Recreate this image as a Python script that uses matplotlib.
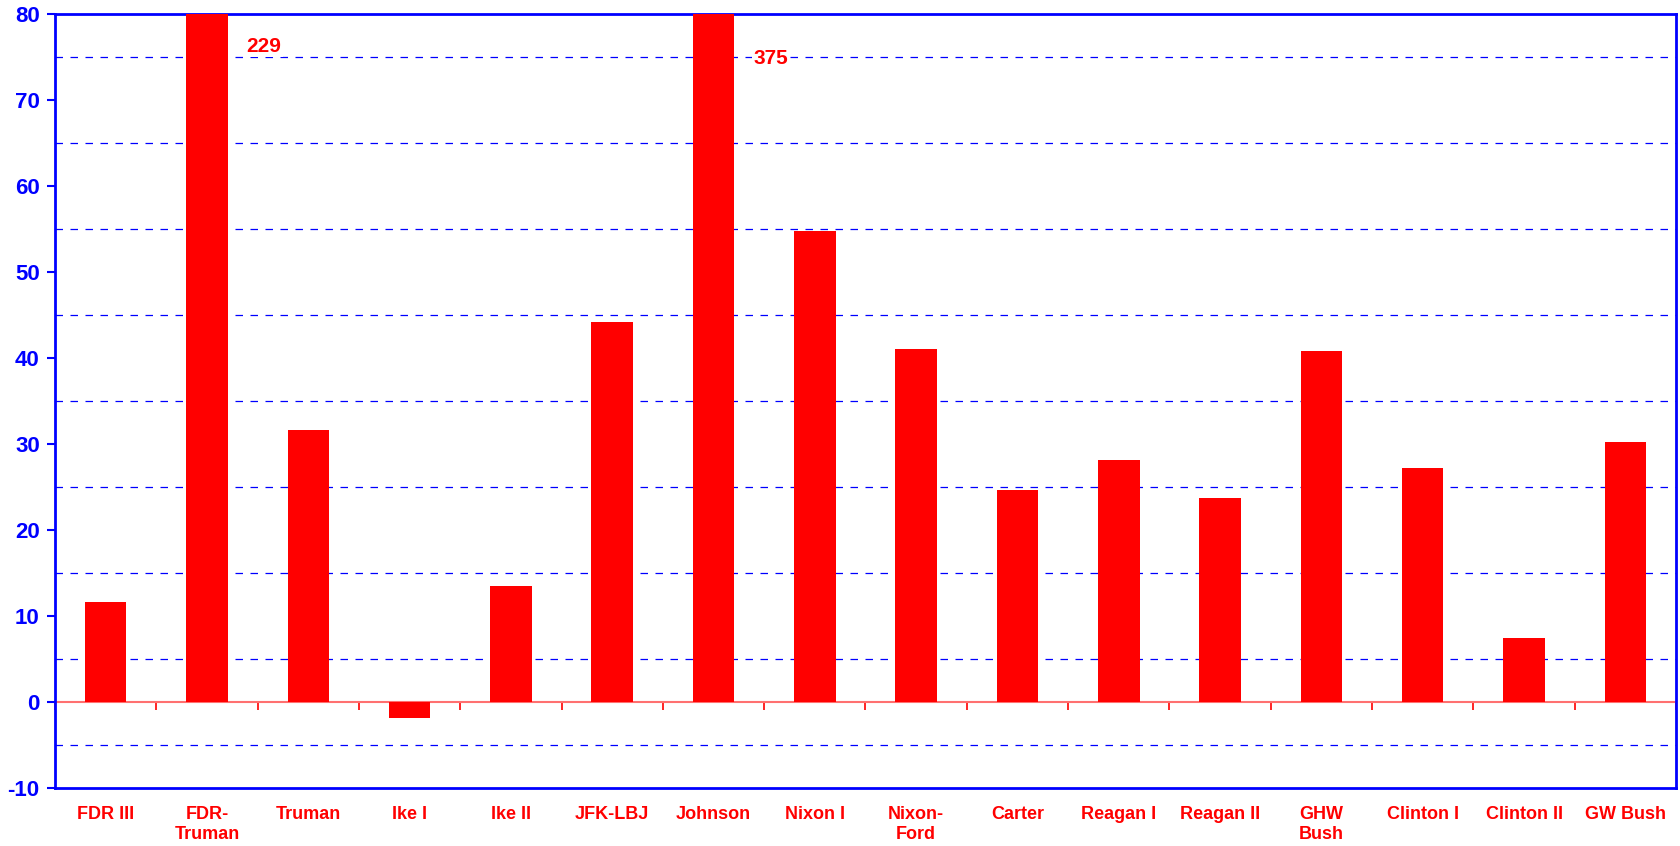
import matplotlib
matplotlib.use("Agg")
import matplotlib.pyplot as plt
import numpy as np

categories = ["FDR III", "FDR-\nTruman", "Truman", "Ike I", "Ike II", "JFK-LBJ", "Johnson",
              "Nixon I", "Nixon-\nFord", "Carter", "Reagan I", "Reagan II", "GHW\nBush",
              "Clinton I", "Clinton II", "GW Bush"]
values = [11.6, 229, 31.6, -1.9, 13.5, 44.2, 375, 54.8, 41.1, 24.7, 28.2, 23.8, 40.8, 27.2, 7.5, 30.3]
y_ticks = [-10, 0, 10, 20, 30, 40, 50, 60, 70, 80]
y_minor = [-5, 5, 15, 25, 35, 45, 55, 65, 75]
off_scale_labels = {1: ("229", 76.3), 6: ("375", 74.9)}

plt.rcParams['font.family'] = ['Liberation Sans', 'DejaVu Sans']
plt.rcParams['axes.unicode_minus'] = False
BLUE = "#0000FF"
RED = "#FF0000"

fig = plt.figure(figsize=(16.81, 8.46), dpi=100)
ax = fig.add_axes([55/1681, 1-788/846, (1676-55)/1681, (788-14.5)/846])

x = np.arange(len(categories))
ax.bar(x, values, width=0.41, color=RED, zorder=3)

ax.set_xlim(-0.5, len(categories) - 0.5)
ax.set_ylim(y_ticks[0], y_ticks[-1])
ax.set_yticks(y_ticks)
ax.set_yticks(y_minor, minor=True)
ax.set_axisbelow(True)
ax.grid(axis='y', which='major', color=BLUE, linewidth=1.0, linestyle='-')
ax.grid(axis='y', which='minor', color=BLUE, linewidth=0.9, linestyle=(0, (6, 6)))
for t in ax.yaxis.get_major_ticks():
    if abs(t.get_loc()) < 1e-9:
        t.gridline.set_visible(False)
ax.tick_params(axis='y', which='major', colors=BLUE, length=6, width=1.5, direction='out', pad=5)
ax.tick_params(axis='y', which='minor', length=0)
for lbl in ax.get_yticklabels():
    lbl.set_fontsize(16)
    lbl.set_fontweight('bold')
    lbl.set_color(BLUE)

ax.set_xticks(x)
ax.set_xticklabels(categories, fontsize=13, fontweight='bold', color=RED, linespacing=1.2)
ax.tick_params(axis='x', which='major', length=0, pad=13)

for s in ax.spines.values():
    s.set_color(BLUE)
    s.set_linewidth(2)

# zero axis line with category boundary ticks
sec = ax.secondary_xaxis(10/90)
sec.spines['bottom'].set_color("#FF7070")
sec.spines['bottom'].set_linewidth(1.5)
sec.spines['top'].set_visible(False)
sec.set_xticks(np.arange(len(categories) + 1) - 0.5)
sec.tick_params(axis='x', length=6, width=1.2, color=RED, labelbottom=False, direction='out')

for idx, (txt, yy) in off_scale_labels.items():
    ax.text(idx + 0.39, yy, txt, color=RED, fontsize=15, fontweight='bold',
            ha='left', va='center', zorder=4,
            bbox=dict(facecolor='white', edgecolor='none', pad=1))

fig.savefig("out.png", dpi=100)
